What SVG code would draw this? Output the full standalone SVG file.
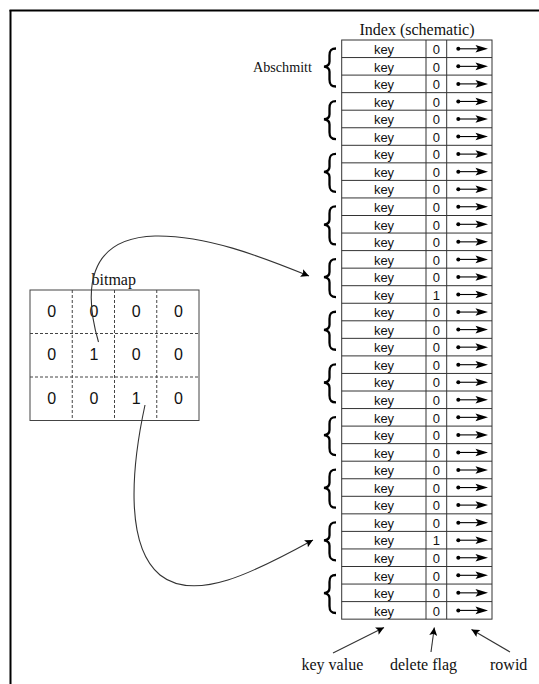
<svg xmlns="http://www.w3.org/2000/svg" xmlns:xlink="http://www.w3.org/1999/xlink" width="539" height="684" viewBox="0 0 539 684">
<style>
.serif{font-family:"Liberation Serif","Times New Roman",serif;fill:#111}
.k{font-family:"Liberation Sans",Arial,sans-serif;font-size:13px;text-anchor:middle;fill:#111}
.d{font-family:"Liberation Sans",Arial,sans-serif;font-size:16px;text-anchor:middle;fill:#111}
.tl{stroke:#333;stroke-width:1;fill:none}
.br{stroke:#000;stroke-width:2.3;fill:none}
.cn{stroke:#333;stroke-width:1.1;fill:none}
</style>
<defs>
<marker id="ah" viewBox="0 0 10 10" refX="10" refY="5" markerWidth="11" markerHeight="8" markerUnits="userSpaceOnUse" orient="auto">
<path d="M0,0 L10,5 L0,10 L2,5 Z" fill="#000"/>
</marker>
<g id="ptr">
<circle cx="458.3" cy="8.8" r="2" fill="#000"/>
<line x1="458.3" y1="8.8" x2="479" y2="8.8" stroke="#000" stroke-width="1.1"/>
<path d="M488,8.8 L475.5,5 L478,8.8 L475.5,12.6 Z" fill="#000"/>
</g>
<path id="brace" d="M336,8.5 C330.5,8.5 329.5,11 329.5,15.5 L329.5,21.5 C329.5,24.5 328,26.3 324,26.6 C328,27 329.5,28.8 329.5,31.8 L329.5,39.5 C329.5,44 330.5,46.5 336,46.5"/>
</defs>

<g id="frame">
<line x1="9.5" y1="10.5" x2="539" y2="10.5" stroke="#000" stroke-width="2"/>
<line x1="10.5" y1="10" x2="10.5" y2="684" stroke="#000" stroke-width="2"/>
</g>

<g id="title"><text class="serif" x="417" y="35" font-size="16" text-anchor="middle">Index (schematic)</text></g>
<g id="abschnitt-label"><text class="serif" x="253" y="71.7" font-size="14" textLength="59" lengthAdjust="spacingAndGlyphs">Abschmitt</text></g>

<g id="index-table">
<rect class="tl" x="341.7" y="40" width="150.3" height="579.15"/>
<line class="tl" x1="426" y1="40" x2="426" y2="619.15"/>
<line class="tl" x1="446.7" y1="40" x2="446.7" y2="619.15"/>
<path class="tl" d="M341.7,57.55H492M341.7,75.1H492M341.7,92.65H492M341.7,110.2H492M341.7,127.75H492M341.7,145.3H492M341.7,162.85H492M341.7,180.4H492M341.7,197.95H492M341.7,215.5H492M341.7,233.05H492M341.7,250.6H492M341.7,268.15H492M341.7,285.7H492M341.7,303.25H492M341.7,320.8H492M341.7,338.35H492M341.7,355.9H492M341.7,373.45H492M341.7,391H492M341.7,408.55H492M341.7,426.1H492M341.7,443.65H492M341.7,461.2H492M341.7,478.75H492M341.7,496.3H492M341.7,513.85H492M341.7,531.4H492M341.7,548.95H492M341.7,566.5H492M341.7,584.05H492M341.7,601.6H492"/>
</g>

<g id="rows">
<g id="row1" transform="translate(0,40)"><text class="k" x="384" y="14">key</text><text class="k" x="436.3" y="14">0</text><use xlink:href="#ptr"/></g>
<g id="row2" transform="translate(0,57.55)"><text class="k" x="384" y="14">key</text><text class="k" x="436.3" y="14">0</text><use xlink:href="#ptr"/></g>
<g id="row3" transform="translate(0,75.1)"><text class="k" x="384" y="14">key</text><text class="k" x="436.3" y="14">0</text><use xlink:href="#ptr"/></g>
<g id="row4" transform="translate(0,92.65)"><text class="k" x="384" y="14">key</text><text class="k" x="436.3" y="14">0</text><use xlink:href="#ptr"/></g>
<g id="row5" transform="translate(0,110.2)"><text class="k" x="384" y="14">key</text><text class="k" x="436.3" y="14">0</text><use xlink:href="#ptr"/></g>
<g id="row6" transform="translate(0,127.75)"><text class="k" x="384" y="14">key</text><text class="k" x="436.3" y="14">0</text><use xlink:href="#ptr"/></g>
<g id="row7" transform="translate(0,145.3)"><text class="k" x="384" y="14">key</text><text class="k" x="436.3" y="14">0</text><use xlink:href="#ptr"/></g>
<g id="row8" transform="translate(0,162.85)"><text class="k" x="384" y="14">key</text><text class="k" x="436.3" y="14">0</text><use xlink:href="#ptr"/></g>
<g id="row9" transform="translate(0,180.4)"><text class="k" x="384" y="14">key</text><text class="k" x="436.3" y="14">0</text><use xlink:href="#ptr"/></g>
<g id="row10" transform="translate(0,197.95)"><text class="k" x="384" y="14">key</text><text class="k" x="436.3" y="14">0</text><use xlink:href="#ptr"/></g>
<g id="row11" transform="translate(0,215.5)"><text class="k" x="384" y="14">key</text><text class="k" x="436.3" y="14">0</text><use xlink:href="#ptr"/></g>
<g id="row12" transform="translate(0,233.05)"><text class="k" x="384" y="14">key</text><text class="k" x="436.3" y="14">0</text><use xlink:href="#ptr"/></g>
<g id="row13" transform="translate(0,250.6)"><text class="k" x="384" y="14">key</text><text class="k" x="436.3" y="14">0</text><use xlink:href="#ptr"/></g>
<g id="row14" transform="translate(0,268.15)"><text class="k" x="384" y="14">key</text><text class="k" x="436.3" y="14">0</text><use xlink:href="#ptr"/></g>
<g id="row15" transform="translate(0,285.7)"><text class="k" x="384" y="14">key</text><text class="k" x="436.3" y="14">1</text><use xlink:href="#ptr"/></g>
<g id="row16" transform="translate(0,303.25)"><text class="k" x="384" y="14">key</text><text class="k" x="436.3" y="14">0</text><use xlink:href="#ptr"/></g>
<g id="row17" transform="translate(0,320.8)"><text class="k" x="384" y="14">key</text><text class="k" x="436.3" y="14">0</text><use xlink:href="#ptr"/></g>
<g id="row18" transform="translate(0,338.35)"><text class="k" x="384" y="14">key</text><text class="k" x="436.3" y="14">0</text><use xlink:href="#ptr"/></g>
<g id="row19" transform="translate(0,355.9)"><text class="k" x="384" y="14">key</text><text class="k" x="436.3" y="14">0</text><use xlink:href="#ptr"/></g>
<g id="row20" transform="translate(0,373.45)"><text class="k" x="384" y="14">key</text><text class="k" x="436.3" y="14">0</text><use xlink:href="#ptr"/></g>
<g id="row21" transform="translate(0,391)"><text class="k" x="384" y="14">key</text><text class="k" x="436.3" y="14">0</text><use xlink:href="#ptr"/></g>
<g id="row22" transform="translate(0,408.55)"><text class="k" x="384" y="14">key</text><text class="k" x="436.3" y="14">0</text><use xlink:href="#ptr"/></g>
<g id="row23" transform="translate(0,426.1)"><text class="k" x="384" y="14">key</text><text class="k" x="436.3" y="14">0</text><use xlink:href="#ptr"/></g>
<g id="row24" transform="translate(0,443.65)"><text class="k" x="384" y="14">key</text><text class="k" x="436.3" y="14">0</text><use xlink:href="#ptr"/></g>
<g id="row25" transform="translate(0,461.2)"><text class="k" x="384" y="14">key</text><text class="k" x="436.3" y="14">0</text><use xlink:href="#ptr"/></g>
<g id="row26" transform="translate(0,478.75)"><text class="k" x="384" y="14">key</text><text class="k" x="436.3" y="14">0</text><use xlink:href="#ptr"/></g>
<g id="row27" transform="translate(0,496.3)"><text class="k" x="384" y="14">key</text><text class="k" x="436.3" y="14">0</text><use xlink:href="#ptr"/></g>
<g id="row28" transform="translate(0,513.85)"><text class="k" x="384" y="14">key</text><text class="k" x="436.3" y="14">0</text><use xlink:href="#ptr"/></g>
<g id="row29" transform="translate(0,531.4)"><text class="k" x="384" y="14">key</text><text class="k" x="436.3" y="14">1</text><use xlink:href="#ptr"/></g>
<g id="row30" transform="translate(0,548.95)"><text class="k" x="384" y="14">key</text><text class="k" x="436.3" y="14">0</text><use xlink:href="#ptr"/></g>
<g id="row31" transform="translate(0,566.5)"><text class="k" x="384" y="14">key</text><text class="k" x="436.3" y="14">0</text><use xlink:href="#ptr"/></g>
<g id="row32" transform="translate(0,584.05)"><text class="k" x="384" y="14">key</text><text class="k" x="436.3" y="14">0</text><use xlink:href="#ptr"/></g>
<g id="row33" transform="translate(0,601.6)"><text class="k" x="384" y="14">key</text><text class="k" x="436.3" y="14">0</text><use xlink:href="#ptr"/></g>
</g>

<g id="braces" class="br">
<use xlink:href="#brace" transform="translate(0,40)"/>
<use xlink:href="#brace" transform="translate(0,92.65)"/>
<use xlink:href="#brace" transform="translate(0,145.3)"/>
<use xlink:href="#brace" transform="translate(0,197.95)"/>
<use xlink:href="#brace" transform="translate(0,250.6)"/>
<use xlink:href="#brace" transform="translate(0,303.25)"/>
<use xlink:href="#brace" transform="translate(0,355.9)"/>
<use xlink:href="#brace" transform="translate(0,408.55)"/>
<use xlink:href="#brace" transform="translate(0,461.2)"/>
<use xlink:href="#brace" transform="translate(0,513.85)"/>
<use xlink:href="#brace" transform="translate(0,566.5)"/>
</g>

<g id="bitmap">
<text class="serif" x="91.5" y="285" font-size="16">bitmap</text>
<rect x="30" y="290" width="169" height="130.5" fill="none" stroke="#444" stroke-width="1"/>
<path d="M72.25,290V420.5M114.5,290V420.5M156.75,290V420.5M30,333.5H199M30,377H199" fill="none" stroke="#444" stroke-width="1" stroke-dasharray="3,2"/>
<text class="d" x="51.6" y="316.7">0</text><text class="d" x="93.9" y="316.7">0</text><text class="d" x="136.1" y="316.7">0</text><text class="d" x="178.4" y="316.7">0</text>
<text class="d" x="51.6" y="360.2">0</text><text class="d" x="93.9" y="360.2">1</text><text class="d" x="136.1" y="360.2">0</text><text class="d" x="178.4" y="360.2">0</text>
<text class="d" x="51.6" y="403.7">0</text><text class="d" x="93.9" y="403.7">0</text><text class="d" x="136.1" y="403.7">1</text><text class="d" x="178.4" y="403.7">0</text>
</g>

<g id="labels">
<text class="serif" x="301.5" y="670" font-size="16">key value</text>
<text class="serif" x="390" y="670" font-size="16">delete flag</text>
<text class="serif" x="490" y="670" font-size="16">rowid</text>
</g>

<g id="connectors">
<path class="cn" d="M98.5,342 C84,292 86,238 155,236 C205,235 260,256 309,276" marker-end="url(#ah)"/>
<path class="cn" d="M145,405 C132,465 124,545 160,575 C195,603 255,572 313,540" marker-end="url(#ah)"/>
<line class="cn" x1="333" y1="653" x2="384" y2="627.5" marker-end="url(#ah)"/>
<line class="cn" x1="431" y1="652" x2="434.3" y2="627.5" marker-end="url(#ah)"/>
<line class="cn" x1="510" y1="652" x2="471.5" y2="629.5" marker-end="url(#ah)"/>
</g>
</svg>
